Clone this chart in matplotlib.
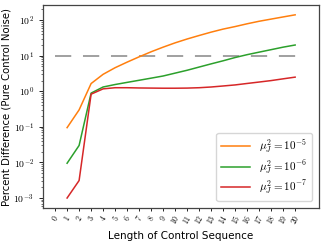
import numpy as np
import matplotlib
matplotlib.use("Agg")
import matplotlib.pyplot as plt

plt.rcParams['mathtext.fontset'] = 'cm'
plt.rcParams['font.family'] = ['DejaVu Sans']

# Control sequence lengths (categorical ticks 0..20, data from 1)
lengths = list(range(1, 21))
tick_labels = [str(i) for i in range(0, 21)]

# percent differences
mu5 = [0.095, 0.30, 1.65, 3.0, 4.6, 6.6, 9.3, 12.9, 17.4, 23, 29.5, 37, 46,
       56, 66, 79, 93, 107, 123, 141]
mu6 = [0.0095, 0.030, 0.89, 1.32, 1.55, 1.78, 2.04, 2.34, 2.69, 3.24, 3.9,
       4.8, 5.9, 7.2, 8.9, 10.7, 12.6, 14.8, 17.4, 20.0]
mu7 = [0.0010, 0.0031, 0.83, 1.17, 1.26, 1.26, 1.24, 1.23, 1.22, 1.22, 1.23,
       1.26, 1.32, 1.41, 1.51, 1.66, 1.82, 2.0, 2.24, 2.5]
threshold = 10

fig = plt.figure(figsize=(3.24, 2.42), dpi=100)
ax = fig.add_axes([0.133, 0.14, 0.852, 0.839])

ax.plot([0, 20.6], [threshold, threshold], color='#999999', lw=1.3,
        dashes=(9, 6.5))
ax.plot(lengths, mu5, color='#ff7f0e', lw=1.1, label=r'$\mu_J^2 = 10^{-5}$')
ax.plot(lengths, mu6, color='#2ca02c', lw=1.1, label=r'$\mu_J^2 = 10^{-6}$')
ax.plot(lengths, mu7, color='#d62728', lw=1.1, label=r'$\mu_J^2 = 10^{-7}$')

ax.set_yscale('log')
ax.set_ylim(5.2e-4, 265)
ax.set_xlim(-1, 22)
ax.set_xticks(range(0, 21))
ax.set_xticklabels(['$' + t + '$' for t in tick_labels], rotation=60,
                   fontsize=5.5)
ax.tick_params(axis='y', labelsize=7, length=3, width=0.6)
ax.tick_params(axis='y', which='minor', length=1.5, width=0.4)
ax.tick_params(axis='x', length=2, width=0.6, pad=1.5)
ax.set_yticks([1e-3, 1e-2, 1e-1, 1, 10, 100])
ax.set_yticklabels([r'$10^{-3}$', r'$10^{-2}$', r'$10^{-1}$', r'$10^{0}$',
                    r'$10^{1}$', r'$10^{2}$'])

for s in ax.spines.values():
    s.set_color('#444444')
    s.set_linewidth(0.9)

ax.set_ylabel('Percent Difference (Pure Control Noise)', fontsize=7.3)
ax.yaxis.set_label_coords(-0.115, 0.5)
ax.set_xlabel('Length of Control Sequence', fontsize=7.5)
ax.xaxis.set_label_coords(0.5, -0.115)

ax.legend(loc='lower right', fontsize=8, handlelength=2.6,
          borderpad=0.45, labelspacing=0.25, handletextpad=0.8,
          framealpha=0.8, borderaxespad=0, bbox_to_anchor=(0.975, 0.035))

fig.savefig('out.png', dpi=100)
